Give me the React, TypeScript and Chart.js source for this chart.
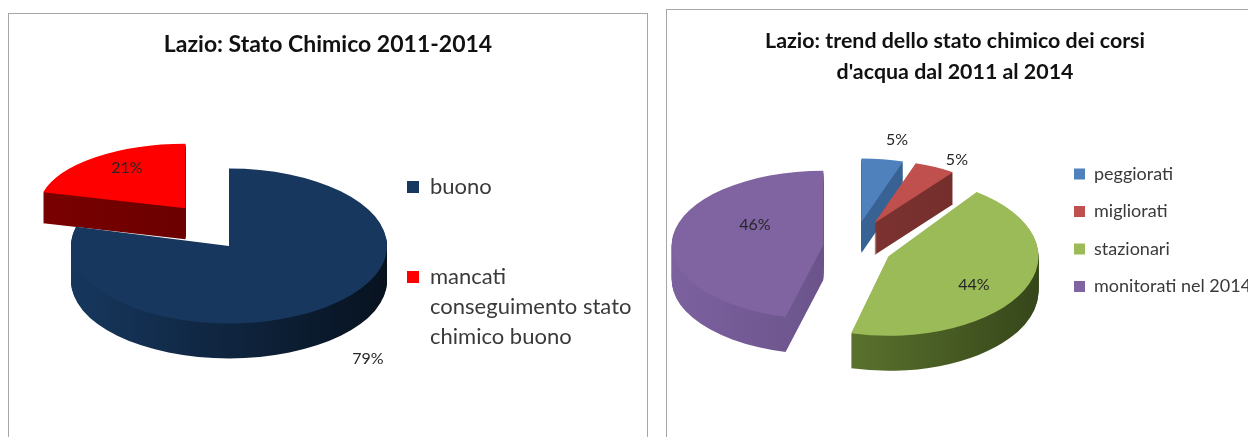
import React, { useEffect, useRef } from "react";
import { Chart, registerables } from "chart.js";

Chart.register(...registerables);

// ---- data ----
const leftTitle = "Lazio: Stato Chimico 2011-2014";
const leftLabels = ["buono", ["mancati", "conseguimento stato", "chimico buono"]];
const leftValues = [79, 21];
const leftColors = ["#17375E", "#FF0000"];
const leftWalls = [["#17375E", "#07121F"], ["#7A0000", "#5C0000"]];

const rightTitle = ["Lazio: trend dello stato chimico dei corsi", "d'acqua dal 2011 al 2014"];
const rightLabels = ["peggiorati", "migliorati", "stazionari", "monitorati nel 2014"];
const rightValues = [5, 5, 44, 46];
const rightColors = ["#4F81BD", "#C0504D", "#9BBB59", "#8064A2"];
const rightWalls = [["#3A6595", "#376092"], ["#8A3A37", "#6E2B29"], ["#6F8C38", "#36461A"], ["#7C619F", "#5A4676"]];

const pie3d = {
  id: "pie3d",
  beforeDatasetsDraw(chart: any, _args: any, o: any) {
    const ctx = chart.ctx;
    const arcs = chart.getDatasetMeta(0).data;
    for (const i of o.order) {
      const el = arcs[i];
      const { x, y, startAngle, endAngle, outerRadius } = el.getProps(["x", "y", "startAngle", "endAngle", "outerRadius"]);
      const mid = (startAngle + endAngle) / 2;
      const ky = o.scale[i] * o.squash[i];
      ctx.save();
      ctx.translate(
        o.center[0] + Math.cos(mid) * o.explode[i],
        o.center[1] + Math.sin(mid) * o.explode[i] * o.squash[i] + o.lift[i]
      );
      ctx.scale(o.scale[i], ky);
      ctx.translate(-x, -y);
      const grad = ctx.createLinearGradient(x - outerRadius, 0, x + outerRadius, 0);
      grad.addColorStop(0, o.walls[i][0]);
      grad.addColorStop(1, o.walls[i][1]);
      ctx.fillStyle = grad;
      for (let d = o.depth[i]; d >= 1; d--) {
        ctx.beginPath();
        const dy = d / ky;
        ctx.moveTo(x, y + dy);
        ctx.arc(x, y + dy, outerRadius, startAngle, endAngle);
        ctx.closePath();
        ctx.fill();
      }
      el.draw(ctx);
      ctx.restore();
    }
    return false;
  },
  afterLayout(chart: any, _args: any, o: any) {
    const lg = chart.legend;
    const p = lg.options.labels.padding;
    const w = lg.width;
    const h = lg.height;
    lg.left = o.legendAt[0] - p;
    lg.top = o.legendAt[1] - p;
    lg.right = lg.left + w;
    lg.bottom = lg.top + h;
    chart.titleBlock.left += o.titleShift;
    chart.titleBlock.right += o.titleShift;
  },
  afterDraw(chart: any, _args: any, o: any) {
    const ctx = chart.ctx;
    const arcs = chart.getDatasetMeta(0).data;
    const values = chart.data.datasets[0].data;
    ctx.save();
    ctx.font = o.labelFont;
    ctx.fillStyle = "#262626";
    ctx.textAlign = "center";
    ctx.textBaseline = "middle";
    arcs.forEach((el: any, i: number) => {
      const { startAngle, endAngle, outerRadius } = el.getProps(["startAngle", "endAngle", "outerRadius"]);
      const mid = (startAngle + endAngle) / 2;
      const r = o.explode[i] + o.labelReach[i] * outerRadius;
      const px = o.center[0] + Math.cos(mid) * r;
      const py = o.center[1] + Math.sin(mid) * r * o.labelSquash + o.labelLift[i];
      ctx.fillText(`${values[i]}%`, px, py);
    });
    ctx.restore();
  },
};

function usePie(ref: any, cfg: any) {
  useEffect(() => {
    const chart = new Chart(ref.current, cfg());
    return () => chart.destroy();
  }, []);
}

function baseConfig(labels: any, values: number[], colors: string[], title: any, titleFont: any, titlePad: any, legend: any, pie: any, radius: number) {
  return {
    type: "pie",
    data: { labels, datasets: [{ data: values, backgroundColor: colors, borderWidth: 0 }] },
    plugins: [pie3d],
    options: {
      animation: false,
      responsive: false,
      events: [],
      radius,
      plugins: {
        title: { display: true, text: title, color: "#111111", font: titleFont, padding: titlePad },
        tooltip: { enabled: false },
        legend: {
          position: "chartArea",
          align: "start",
          labels: legend,
        },
        pie3d: pie,
      },
    },
  };
}

export default function App() {
  const a = useRef<HTMLCanvasElement>(null);
  const b = useRef<HTMLCanvasElement>(null);

  usePie(a, () =>
    baseConfig(
      leftLabels, leftValues, leftColors, leftTitle,
      { family: "Lato", size: 23, weight: "bold", lineHeight: 1.2 },
      { top: 16.5, bottom: 4 },
      { boxWidth: 12, boxHeight: 12, padding: 68, color: "#3a3a3a", font: { family: "Lato", size: 22, lineHeight: 30 / 22 } },
      {
        center: [220, 232], order: [1, 0], explode: [0, 71], lift: [0, -13], scale: [1, 0.93], squash: [0.49, 0.44],
        depth: [35, 31], walls: leftWalls, legendAt: [398, 162], titleShift: 0, labelSquash: 0.49,
        labelFont: "16px Lato", labelReach: [1.435, 0.604], labelLift: [25, -13.5],
      },
      158
    )
  );

  usePie(b, () =>
    baseConfig(
      rightLabels, rightValues, rightColors, rightTitle,
      { family: "Lato", size: 21.4, weight: "bold", lineHeight: 31 / 21.4 },
      { top: 15.5, bottom: 4 },
      { boxWidth: 11, boxHeight: 11, padding: 19.5, color: "#3a3a3a", font: { family: "Lato", size: 18, lineHeight: 1.2 } },
      {
        center: [188, 233], order: [0, 1, 2, 3], explode: [41, 43, 37, 32], lift: [-2, -2, 5, 4],
        scale: [0.9, 0.89, 1, 1.01], squash: [0.47, 0.47, 0.53, 0.49], depth: [31, 32, 35, 35], walls: rightWalls,
        legendAt: [407, 155], titleShift: -2.5, labelSquash: 0.5,
        labelFont: "16px Lato", labelReach: [1.52, 1.21, 0.63, 0.459], labelLift: [30, 17, 14, -11.7],
      },
      150
    )
  );

  const panel = (l: number, t: number, w: number, h: number, ref: any, right: boolean) => (
    <div style={{
      position: "absolute", left: l, top: t, width: w, height: h,
      borderTop: "1px solid #a6a6a6", borderLeft: "1px solid #a6a6a6",
      borderRight: right ? "1px solid #a6a6a6" : "none",
    }}>
      <canvas ref={ref} width={w} height={h} style={{ display: "block" }} />
    </div>
  );

  return (
    <div style={{ position: "absolute", left: 0, top: 0, width: 1248, height: 437, overflow: "hidden", background: "#fff" }}>
      {panel(8, 13, 638, 423, a, true)}
      {panel(666, 9, 581, 427, b, false)}
    </div>
  );
}
